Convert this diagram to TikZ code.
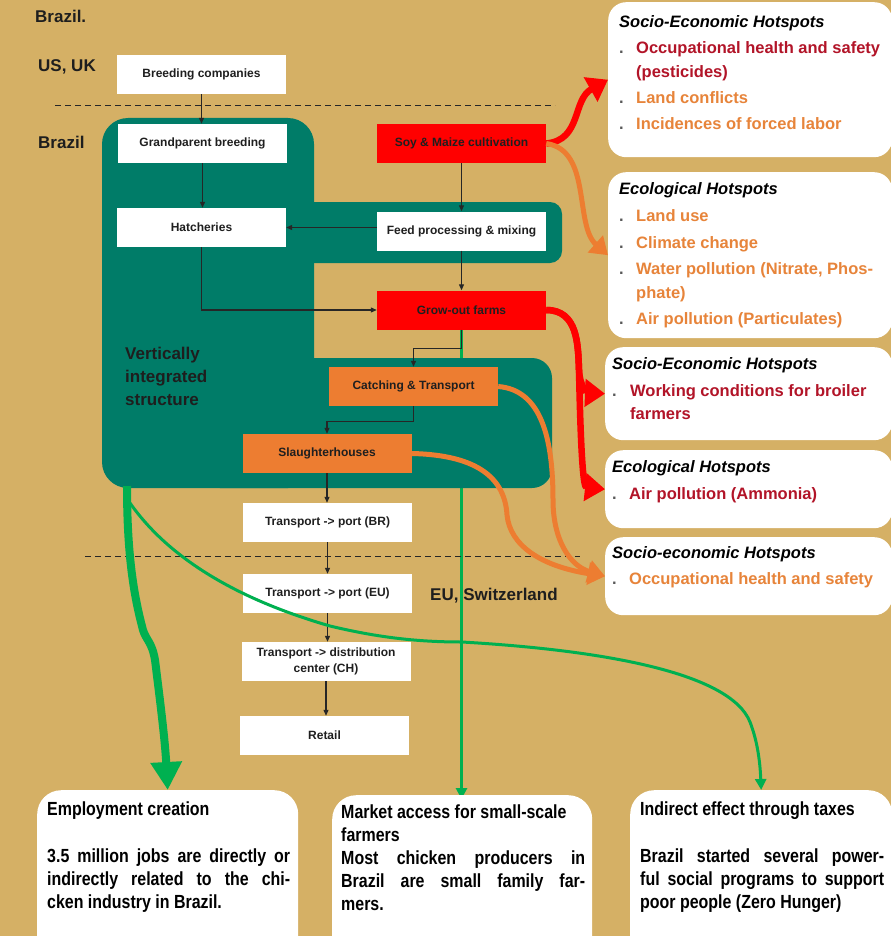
\documentclass[tikz,border=0pt]{standalone}
\usepackage{fontspec}
\setmainfont{Liberation Sans}
\newfontfamily\narrowfont[FakeStretch=0.84]{Liberation Sans}
\usetikzlibrary{arrows.meta}

\definecolor{bgtan}{RGB}{213,176,101}
\definecolor{chainteal}{RGB}{0,124,104}
\definecolor{hotred}{RGB}{255,0,0}
\definecolor{hotorange}{RGB}{237,125,49}
\definecolor{darkredtxt}{RGB}{178,20,40}
\definecolor{orangetxt}{RGB}{231,132,58}
\definecolor{benefitgreen}{RGB}{0,176,80}
\definecolor{labelink}{RGB}{30,30,30}

\newcommand{\setpx}[2]{\fontsize{#1}{#2}\selectfont}
\newcommand{\dotmark}[1]{\makebox[#1][l]{\textcolor{black!65}{.}}}

\pgfdeclarelayer{bglayer}
\pgfdeclarelayer{linklayer}
\pgfdeclarelayer{teallayer}
\pgfsetlayers{bglayer,linklayer,teallayer,main}

\tikzset{
  stage/.style={fill=white, minimum width=169pt, minimum height=39pt,
    inner sep=0pt, font=\bfseries\setpx{12}{16}, text=black!88, align=center},
  flow/.style={draw=black!85, line width=1.1pt, -{Triangle[length=6pt,width=5pt]}},
  hot/.style={fill=white, rounded corners=18pt, anchor=north west, inner sep=0pt},
  txt/.style={anchor=base west, inner sep=0pt},
  region/.style={txt, font=\bfseries\setpx{17}{23}, text=labelink},
  hstitle/.style={txt, font=\bfseries\itshape\setpx{16.5}{20}, text=black},
  hsred/.style={txt, font=\bfseries\setpx{16.5}{20}, text=darkredtxt},
  hsorange/.style={txt, font=\bfseries\setpx{16.5}{20}, text=orangetxt},
  benefit/.style={txt, font=\narrowfont\bfseries\setpx{19}{23}, text=black},
  redarrow/.style={draw=hotred, line width=6.5pt, -{Triangle[length=20pt,width=27pt]}},
  orangearrow/.style={draw=hotorange, line width=5pt, -{Triangle[length=17pt,width=22pt]}},
  greenthick/.style={draw=benefitgreen, line width=8pt, -{Triangle[length=28pt,width=30pt]}},
  greenthin/.style={draw=benefitgreen, line width=3pt, -{Triangle[length=11pt,width=11pt]}},
  border/.style={draw=black!85, line width=1pt, dash pattern=on 6pt off 4pt}
}

\begin{document}
\begin{tikzpicture}[x=1pt,y=-1pt]
\useasboundingbox (0,0) rectangle (891,936);
\clip (0,0) rectangle (891,936);
\begin{pgfonlayer}{bglayer}
  \fill[bgtan] (0,0) rectangle (891,936);
\end{pgfonlayer}

% vertically integrated structure
\begin{pgfonlayer}{teallayer}
  \fill[chainteal, rounded corners=26pt] (102,118) rectangle (314,488);
  \fill[chainteal, rounded corners=12pt] (200,202) rectangle (562,263);
  \fill[chainteal, rounded corners=20pt] (200,358) rectangle (552,488);
\end{pgfonlayer}

% value chain stages
\node[stage] (breed) at (201.5,74.5) {Breeding companies};
\node[stage] (grand) at (202.5,143.5) {Grandparent breeding};
\node[stage] (hatch) at (201.5,227.5) {Hatcheries};
\node[stage,fill=hotred] (soy) at (461.5,143.5) {Soy \& Maize cultivation};
\node[stage] (feed) at (461.5,231) {Feed processing \& mixing};
\node[stage,fill=hotred] (grow) at (461.5,310) {Grow-out farms};
\node[stage,fill=hotorange] (catch) at (413.5,386.5) {Catching \& Transport};
\node[stage,fill=hotorange] (slaughter) at (327,453.5) {Slaughterhouses};
\node[stage] (portbr) at (327.5,522.5) {Transport -> port (BR)};
\node[stage] (porteu) at (327.5,593.5) {Transport -> port (EU)};
\node[stage] (distc) at (326,661.5) {Transport -> distribution\\center (CH)};
\node[stage] (retail) at (324.5,735.5) {Retail};

% borders between regions
\coordinate (bordA1) at (55,106);
\coordinate (bordA2) at (555,106);
\coordinate (bordB1) at (85,556);
\coordinate (bordB2) at (580,556);
\draw[border] (bordA1) -- (bordA2);
\draw[border] (bordB1) -- (bordB2);

% region labels
\node[region] (toptxt) at (35,23) {Brazil.};
\node[region] (usuk) at (38,72) {US, UK};
\node[region] (brlab) at (38,149) {Brazil};
\node[region] (eulab) at (430,600) {EU, Switzerland};
\node[region, align=left, anchor=north west] (vis) at (125,347)
  {Vertically\\integrated\\structure};

% material flow
\draw[flow] (breed.south) -- (breed.south |- grand.north);
\draw[flow] (grand.south) -- (grand.south |- hatch.north);
\draw[flow] (soy) -- (feed);
\draw[flow] (feed.west |- hatch.east) -- (hatch.east);
\draw[flow] (hatch.south) |- (grow.west);
\draw[flow] (feed) -- (grow);
\draw[flow] (grow.south) -- ++(0,19) -| (catch.north);
\draw[flow] (catch.south) -- ++(0,15) -| (slaughter.north);
\draw[flow] (slaughter.south) -- (slaughter.south |- portbr.north);
\draw[flow] (portbr) -- (porteu);
\draw[flow] (porteu.south) -- (porteu.south |- distc.north);
\draw[flow] (distc.south) -- (distc.south |- retail.north);

% hotspot boxes
\node[hot, minimum width=284pt, minimum height=155pt] (hs1) at (608,2) {};
\node[hot, minimum width=284pt, minimum height=166pt] (hs2) at (608,172) {};
\node[hot, minimum width=287pt, minimum height=93pt] (hs3) at (605,347) {};
\node[hot, minimum width=287pt, minimum height=78pt] (hs4) at (605,450) {};
\node[hot, minimum width=287pt, minimum height=78pt] (hs5) at (605,537) {};

% benefit boxes
\node[hot, rounded corners=24pt, minimum width=261pt, minimum height=170pt] (employ) at (37,790) {};
\node[hot, rounded corners=24pt, minimum width=260pt, minimum height=170pt] (market) at (332,795) {};
\node[hot, rounded corners=24pt, minimum width=262pt, minimum height=170pt] (taxes) at (630,790) {};

% hotspot links
\draw[redarrow] (soy.east) .. controls (582,140) and (572,100) .. (hs1.west);
\draw[orangearrow] (soy.east) .. controls (592,150) and (574,225) .. (hs2.west);
\draw[redarrow] (grow.east) .. controls (578,310) and (578,345) .. (579,370)
  .. controls (580,388) and (588,393) .. (hs3.west);
\draw[redarrow] (grow.east) .. controls (578,310) and (578,345) .. (579,370)
  .. controls (581,468) and (584,487) .. (hs4.west);
\draw[orangearrow] (catch.east) .. controls (542,390) and (553,440) .. (553,500)
  .. controls (553,540) and (570,566) .. (hs5.west);
\draw[orangearrow] (slaughter.east) .. controls (480,455) and (505,480) .. (507,515)
  .. controls (510,545) and (540,566) .. (hs5.west);

% benefit links
\coordinate (tealfoot) at (127,486);
\coordinate (taxbranch) at (130,503);
\begin{pgfonlayer}{linklayer}
  \draw[greenthin] (grow.south) -- ([yshift=-4pt]grow.south |- market.north);
\end{pgfonlayer}
\draw[greenthick] (tealfoot) .. controls (127,560) and (135,600) .. (143,630)
  .. controls (146,640) and (152,642) .. (155,660)
  .. controls (160,700) and (165,740) .. (employ.north);
\draw[greenthin] (taxbranch) .. controls (170,560) and (240,600) .. (330,626)
  .. controls (380,638) and (420,642) .. (462,642)
  .. controls (600,650) and (730,672) .. (750,722)
  .. controls (757,740) and (760,760) .. (taxes.north);

% hotspot texts
\node[hstitle] (hs1t) at (619,28) {Socio-Economic Hotspots};
\node[hsred] (hs1a) at (619,54) {\dotmark{17pt}Occupational health and safety};
\node[hsred] (hs1b) at (636,78) {(pesticides)};
\node[hsorange] (hs1c) at (619,104) {\dotmark{17pt}Land conflicts};
\node[hsorange] (hs1d) at (619,130) {\dotmark{17pt}Incidences of forced labor};

\node[hstitle] (hs2t) at (619,194) {Ecological Hotspots};
\node[hsorange] (hs2a) at (619,221) {\dotmark{17pt}Land use};
\node[hsorange] (hs2b) at (619,248) {\dotmark{17pt}Climate change};
\node[hsorange] (hs2c) at (619,274) {\dotmark{17pt}Water pollution (Nitrate, Phos-};
\node[hsorange] (hs2d) at (636,298) {phate)};
\node[hsorange] (hs2e) at (619,324) {\dotmark{17pt}Air pollution (Particulates)};

\node[hstitle] (hs3t) at (612,369) {Socio-Economic Hotspots};
\node[hsred] (hs3a) at (612,396) {\dotmark{18pt}Working conditions for broiler};
\node[hsred] (hs3b) at (630,419) {farmers};

\node[hstitle] (hs4t) at (612,472) {Ecological Hotspots};
\node[hsred] (hs4a) at (612,499) {\dotmark{17pt}Air pollution (Ammonia)};

\node[hstitle] (hs5t) at (612,558) {Socio-economic Hotspots};
\node[hsorange] (hs5a) at (612,584) {\dotmark{17pt}Occupational health and safety};

% benefit texts
\node[benefit] (emt) at (47,815) {Employment creation};
\node[benefit] (em1) at (47,862) {\makebox[243pt][s]{3.5 million jobs are directly or}};
\node[benefit] (em2) at (47,885) {\makebox[243pt][s]{indirectly related to the chi-}};
\node[benefit] (em3) at (47,908) {cken industry in Brazil.};

\node[benefit] (mat) at (341,818) {Market access for small-scale};
\node[benefit] (mat2) at (341,841) {farmers};
\node[benefit] (ma1) at (341,864) {\makebox[244pt][s]{Most chicken producers in}};
\node[benefit] (ma2) at (341,887) {\makebox[244pt][s]{Brazil are small family far-}};
\node[benefit] (ma3) at (341,910) {mers.};

\node[benefit] (tat) at (640,815) {Indirect effect through taxes};
\node[benefit] (ta1) at (640,862) {\makebox[244pt][s]{Brazil started several power-}};
\node[benefit] (ta2) at (640,885) {\makebox[244pt][s]{ful social programs to support}};
\node[benefit] (ta3) at (640,908) {poor people (Zero Hunger)};
\end{tikzpicture}
\end{document}
